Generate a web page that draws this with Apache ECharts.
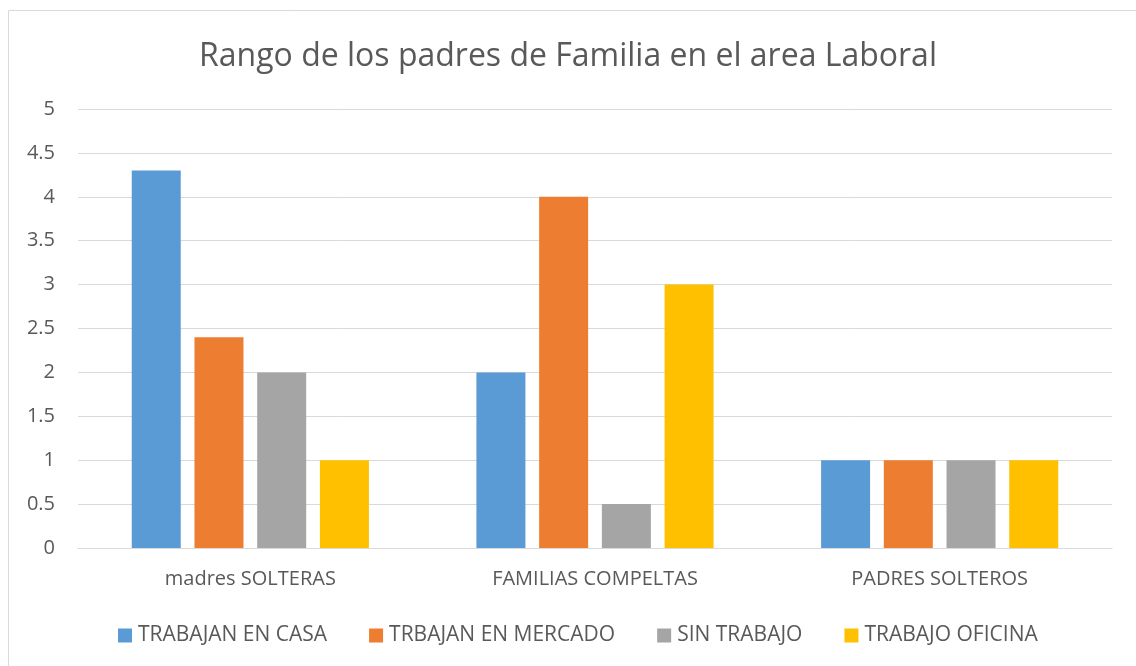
<!DOCTYPE html>
<html><head><meta charset="utf-8">
<script src="https://cdn.jsdelivr.net/npm/echarts@6/dist/echarts.min.js"></script>
<style>html,body{margin:0;padding:0;background:#fff}#c{width:1136px;height:666px}</style>
</head><body><div id="c"></div>
<script>
const categories = ['madres SOLTERAS', 'FAMILIAS COMPELTAS', 'PADRES SOLTEROS'];
const seriesNames = ['TRABAJAN EN CASA', 'TRBAJAN EN MERCADO', 'SIN TRABAJO', 'TRABAJO OFICINA'];
const trabajanCasa = [4.3, 2, 1];
const trabajanMercado = [2.4, 4, 1];
const sinTrabajo = [2, 0.5, 1];
const trabajoOficina = [1, 3, 1];
const colors = ['#5B9BD5', '#ED7D31', '#A5A5A5', '#FFC000'];
const values = [trabajanCasa, trabajanMercado, sinTrabajo, trabajoOficina];
const font = '"Open Sans", sans-serif';
const chart = echarts.init(document.getElementById('c'));
chart.setOption({
  animation: false,
  textStyle: {fontFamily: font},
  graphic: [{type: 'rect', shape: {x: 8.5, y: 10.5, width: 1140, height: 680}, style: {fill: 'none', stroke: '#D9D9D9', lineWidth: 1}, z: -1}],
  title: {text: 'Rango de los padres de Familia en el area Laboral', left: 'center', top: 36,
    textStyle: {fontSize: 32, fontWeight: 'normal', color: '#595959', fontFamily: font}},
  legend: {top: 620, left: 113, itemWidth: 14, itemHeight: 14, itemGap: 42, icon: 'rect',
    textStyle: {fontSize: 21, color: '#595959', fontFamily: font, padding: [0, 0, 0, 1]}},
  grid: {left: 78, right: 24, top: 109, bottom: 118, containLabel: false},
  xAxis: {type: 'category', data: categories,
    axisLine: {lineStyle: {color: '#D9D9D9'}}, axisTick: {show: false},
    axisLabel: {fontSize: 20, color: '#595959', margin: 21, fontFamily: font}},
  yAxis: {type: 'value', min: 0, max: 5, interval: 0.5,
    axisLine: {show: false}, axisTick: {show: false},
    splitLine: {lineStyle: {color: '#D9D9D9', width: 1}},
    axisLabel: {fontSize: 20, color: '#595959', margin: 23, fontFamily: font}},
  series: seriesNames.map((n, i) => ({name: n, type: 'bar', data: values[i], barWidth: 49, barGap: '28%',
    itemStyle: {color: colors[i]}}))
});
</script></body></html>
